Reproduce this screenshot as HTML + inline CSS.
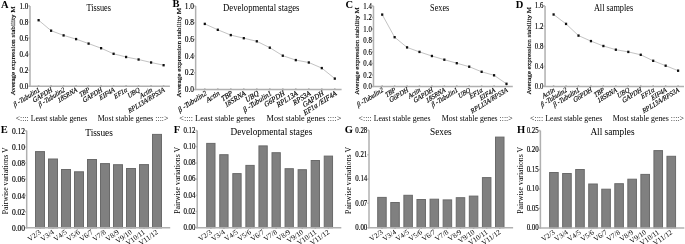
<!DOCTYPE html>
<html><head><meta charset="utf-8"><style>
html,body{margin:0;padding:0;background:#fff;}
svg{display:block;filter:grayscale(1);}
text{font-family:"Liberation Serif", serif;}
.s{stroke:#000;stroke-width:0.15px;}
</style></head><body>
<svg xmlns="http://www.w3.org/2000/svg" width="685" height="244" viewBox="0 0 685 244">
<rect width="685" height="244" fill="#fff"/>
<text font-size="10.5" text-anchor="start" font-weight="bold" font-style="normal" fill="#000" transform="translate(1.0,7.7)">A</text>
<text font-size="9.6" text-anchor="start" font-weight="normal" font-style="normal" fill="#000" transform="translate(86.6,10.8) scale(0.855,1)">Tissues</text>
<line x1="30.00" y1="6.00" x2="30.00" y2="86.80" stroke="#b0b0b0" stroke-width="1.5"/>
<line x1="29.50" y1="86.30" x2="169.90" y2="86.30" stroke="#b0b0b0" stroke-width="1.5"/>
<line x1="28.50" y1="86.30" x2="30.00" y2="86.30" stroke="#b0b0b0" stroke-width="1.5"/>
<text class="s" font-size="7.5" text-anchor="end" font-weight="normal" font-style="normal" fill="#000" transform="translate(28.30,88.80) scale(0.94,1)">0.0</text>
<line x1="28.50" y1="70.24" x2="30.00" y2="70.24" stroke="#b0b0b0" stroke-width="1.5"/>
<text class="s" font-size="7.5" text-anchor="end" font-weight="normal" font-style="normal" fill="#000" transform="translate(28.30,72.74) scale(0.94,1)">0.2</text>
<line x1="28.50" y1="54.18" x2="30.00" y2="54.18" stroke="#b0b0b0" stroke-width="1.5"/>
<text class="s" font-size="7.5" text-anchor="end" font-weight="normal" font-style="normal" fill="#000" transform="translate(28.30,56.68) scale(0.94,1)">0.4</text>
<line x1="28.50" y1="38.12" x2="30.00" y2="38.12" stroke="#b0b0b0" stroke-width="1.5"/>
<text class="s" font-size="7.5" text-anchor="end" font-weight="normal" font-style="normal" fill="#000" transform="translate(28.30,40.62) scale(0.94,1)">0.6</text>
<line x1="28.50" y1="22.06" x2="30.00" y2="22.06" stroke="#b0b0b0" stroke-width="1.5"/>
<text class="s" font-size="7.5" text-anchor="end" font-weight="normal" font-style="normal" fill="#000" transform="translate(28.30,24.56) scale(0.94,1)">0.8</text>
<line x1="28.50" y1="6.00" x2="30.00" y2="6.00" stroke="#b0b0b0" stroke-width="1.5"/>
<text class="s" font-size="7.5" text-anchor="end" font-weight="normal" font-style="normal" fill="#000" transform="translate(28.30,8.50) scale(0.94,1)">1.0</text>
<text class="s" font-size="7.15" text-anchor="middle" font-weight="normal" font-style="normal" fill="#000" transform="translate(15.4,50.9) scale(0.95,1) rotate(-90)">Average expression stability M</text>
<line x1="38.60" y1="86.30" x2="38.60" y2="85.10" stroke="#b0b0b0" stroke-width="1.5"/>
<line x1="51.10" y1="86.30" x2="51.10" y2="85.10" stroke="#b0b0b0" stroke-width="1.5"/>
<line x1="63.60" y1="86.30" x2="63.60" y2="85.10" stroke="#b0b0b0" stroke-width="1.5"/>
<line x1="76.10" y1="86.30" x2="76.10" y2="85.10" stroke="#b0b0b0" stroke-width="1.5"/>
<line x1="88.60" y1="86.30" x2="88.60" y2="85.10" stroke="#b0b0b0" stroke-width="1.5"/>
<line x1="101.10" y1="86.30" x2="101.10" y2="85.10" stroke="#b0b0b0" stroke-width="1.5"/>
<line x1="113.60" y1="86.30" x2="113.60" y2="85.10" stroke="#b0b0b0" stroke-width="1.5"/>
<line x1="126.10" y1="86.30" x2="126.10" y2="85.10" stroke="#b0b0b0" stroke-width="1.5"/>
<line x1="138.60" y1="86.30" x2="138.60" y2="85.10" stroke="#b0b0b0" stroke-width="1.5"/>
<line x1="151.10" y1="86.30" x2="151.10" y2="85.10" stroke="#b0b0b0" stroke-width="1.5"/>
<line x1="163.60" y1="86.30" x2="163.60" y2="85.10" stroke="#b0b0b0" stroke-width="1.5"/>
<polyline points="38.60,20.20 51.10,30.70 63.60,35.40 76.10,39.10 88.60,43.60 101.10,48.20 113.60,53.80 126.10,57.00 138.60,59.50 151.10,62.50 163.60,65.20" fill="none" stroke="#9a9a9a" stroke-width="0.6"/>
<rect x="37.50" y="19.00" width="2.2" height="2.4" fill="#111"/>
<rect x="50.00" y="29.50" width="2.2" height="2.4" fill="#111"/>
<rect x="62.50" y="34.20" width="2.2" height="2.4" fill="#111"/>
<rect x="75.00" y="37.90" width="2.2" height="2.4" fill="#111"/>
<rect x="87.50" y="42.40" width="2.2" height="2.4" fill="#111"/>
<rect x="100.00" y="47.00" width="2.2" height="2.4" fill="#111"/>
<rect x="112.50" y="52.60" width="2.2" height="2.4" fill="#111"/>
<rect x="125.00" y="55.80" width="2.2" height="2.4" fill="#111"/>
<rect x="137.50" y="58.30" width="2.2" height="2.4" fill="#111"/>
<rect x="150.00" y="61.30" width="2.2" height="2.4" fill="#111"/>
<rect x="162.50" y="64.00" width="2.2" height="2.4" fill="#111"/>
<text class="s" font-size="7.3" text-anchor="end" font-weight="normal" font-style="italic" fill="#000" transform="translate(40.20,91.20) scale(0.855,1) rotate(-28)">β -Tubulin1</text>
<text class="s" font-size="7.3" text-anchor="end" font-weight="normal" font-style="italic" fill="#000" transform="translate(52.70,91.20) scale(0.855,1) rotate(-28)">GAPDH</text>
<text class="s" font-size="7.3" text-anchor="end" font-weight="normal" font-style="italic" fill="#000" transform="translate(65.20,91.20) scale(0.855,1) rotate(-28)">β -Tubulin2</text>
<text class="s" font-size="7.3" text-anchor="end" font-weight="normal" font-style="italic" fill="#000" transform="translate(77.70,91.20) scale(0.855,1) rotate(-28)">18SRNA</text>
<text class="s" font-size="7.3" text-anchor="end" font-weight="normal" font-style="italic" fill="#000" transform="translate(90.20,91.20) scale(0.855,1) rotate(-28)">TBP</text>
<text class="s" font-size="7.3" text-anchor="end" font-weight="normal" font-style="italic" fill="#000" transform="translate(102.70,91.20) scale(0.855,1) rotate(-28)">GAPDH</text>
<text class="s" font-size="7.3" text-anchor="end" font-weight="normal" font-style="italic" fill="#000" transform="translate(115.20,91.20) scale(0.855,1) rotate(-28)">EIF4A</text>
<text class="s" font-size="7.3" text-anchor="end" font-weight="normal" font-style="italic" fill="#000" transform="translate(127.70,91.20) scale(0.855,1) rotate(-28)">EF1α</text>
<text class="s" font-size="7.3" text-anchor="end" font-weight="normal" font-style="italic" fill="#000" transform="translate(140.20,91.20) scale(0.855,1) rotate(-28)">UBQ</text>
<text class="s" font-size="7.3" text-anchor="end" font-weight="normal" font-style="italic" fill="#000" transform="translate(152.70,91.20) scale(0.855,1) rotate(-28)">Actin</text>
<text class="s" font-size="7.3" text-anchor="end" font-weight="normal" font-style="italic" fill="#000" transform="translate(165.20,91.20) scale(0.855,1) rotate(-28)">RPL13A/RPS3A</text>
<text font-size="9.1" text-anchor="start" font-weight="normal" font-style="normal" fill="#000" transform="translate(15.7,120.7) scale(0.855,1)">&lt;:::: Least stable genes</text>
<text font-size="9.1" text-anchor="start" font-weight="normal" font-style="normal" fill="#000" transform="translate(97.7,120.7) scale(0.855,1)">Most stable genes ::::&gt;</text>
<text font-size="10.5" text-anchor="start" font-weight="bold" font-style="normal" fill="#000" transform="translate(172.6,6.9)">B</text>
<text font-size="9.6" text-anchor="start" font-weight="normal" font-style="normal" fill="#000" transform="translate(223.1,10.5) scale(0.905,1)">Developmental stages</text>
<line x1="195.65" y1="6.00" x2="195.65" y2="89.95" stroke="#b0b0b0" stroke-width="1.5"/>
<line x1="195.15" y1="89.45" x2="341.60" y2="89.45" stroke="#b0b0b0" stroke-width="1.5"/>
<line x1="194.15" y1="89.45" x2="195.65" y2="89.45" stroke="#b0b0b0" stroke-width="1.5"/>
<text class="s" font-size="7.5" text-anchor="end" font-weight="normal" font-style="normal" fill="#000" transform="translate(193.95,91.95) scale(0.99,1)">0.0</text>
<line x1="194.15" y1="72.76" x2="195.65" y2="72.76" stroke="#b0b0b0" stroke-width="1.5"/>
<text class="s" font-size="7.5" text-anchor="end" font-weight="normal" font-style="normal" fill="#000" transform="translate(193.95,75.26) scale(0.99,1)">0.2</text>
<line x1="194.15" y1="56.07" x2="195.65" y2="56.07" stroke="#b0b0b0" stroke-width="1.5"/>
<text class="s" font-size="7.5" text-anchor="end" font-weight="normal" font-style="normal" fill="#000" transform="translate(193.95,58.57) scale(0.99,1)">0.4</text>
<line x1="194.15" y1="39.38" x2="195.65" y2="39.38" stroke="#b0b0b0" stroke-width="1.5"/>
<text class="s" font-size="7.5" text-anchor="end" font-weight="normal" font-style="normal" fill="#000" transform="translate(193.95,41.88) scale(0.99,1)">0.6</text>
<line x1="194.15" y1="22.69" x2="195.65" y2="22.69" stroke="#b0b0b0" stroke-width="1.5"/>
<text class="s" font-size="7.5" text-anchor="end" font-weight="normal" font-style="normal" fill="#000" transform="translate(193.95,25.19) scale(0.99,1)">0.8</text>
<line x1="194.15" y1="6.00" x2="195.65" y2="6.00" stroke="#b0b0b0" stroke-width="1.5"/>
<text class="s" font-size="7.5" text-anchor="end" font-weight="normal" font-style="normal" fill="#000" transform="translate(193.95,8.50) scale(0.99,1)">1.0</text>
<text class="s" font-size="7.2" text-anchor="middle" font-weight="normal" font-style="normal" fill="#000" transform="translate(180.7,52.6) scale(0.95,1) rotate(-90)">Average expression stability M</text>
<line x1="204.80" y1="89.45" x2="204.80" y2="88.25" stroke="#b0b0b0" stroke-width="1.5"/>
<line x1="217.80" y1="89.45" x2="217.80" y2="88.25" stroke="#b0b0b0" stroke-width="1.5"/>
<line x1="230.80" y1="89.45" x2="230.80" y2="88.25" stroke="#b0b0b0" stroke-width="1.5"/>
<line x1="243.80" y1="89.45" x2="243.80" y2="88.25" stroke="#b0b0b0" stroke-width="1.5"/>
<line x1="256.80" y1="89.45" x2="256.80" y2="88.25" stroke="#b0b0b0" stroke-width="1.5"/>
<line x1="269.80" y1="89.45" x2="269.80" y2="88.25" stroke="#b0b0b0" stroke-width="1.5"/>
<line x1="282.80" y1="89.45" x2="282.80" y2="88.25" stroke="#b0b0b0" stroke-width="1.5"/>
<line x1="295.80" y1="89.45" x2="295.80" y2="88.25" stroke="#b0b0b0" stroke-width="1.5"/>
<line x1="308.80" y1="89.45" x2="308.80" y2="88.25" stroke="#b0b0b0" stroke-width="1.5"/>
<line x1="321.80" y1="89.45" x2="321.80" y2="88.25" stroke="#b0b0b0" stroke-width="1.5"/>
<line x1="334.80" y1="89.45" x2="334.80" y2="88.25" stroke="#b0b0b0" stroke-width="1.5"/>
<polyline points="204.80,23.90 217.80,29.80 230.80,35.10 243.80,38.20 256.80,41.30 269.80,47.70 282.80,55.70 295.80,60.10 308.80,62.50 321.80,68.10 334.80,78.60" fill="none" stroke="#9a9a9a" stroke-width="0.6"/>
<rect x="203.70" y="22.70" width="2.2" height="2.4" fill="#111"/>
<rect x="216.70" y="28.60" width="2.2" height="2.4" fill="#111"/>
<rect x="229.70" y="33.90" width="2.2" height="2.4" fill="#111"/>
<rect x="242.70" y="37.00" width="2.2" height="2.4" fill="#111"/>
<rect x="255.70" y="40.10" width="2.2" height="2.4" fill="#111"/>
<rect x="268.70" y="46.50" width="2.2" height="2.4" fill="#111"/>
<rect x="281.70" y="54.50" width="2.2" height="2.4" fill="#111"/>
<rect x="294.70" y="58.90" width="2.2" height="2.4" fill="#111"/>
<rect x="307.70" y="61.30" width="2.2" height="2.4" fill="#111"/>
<rect x="320.70" y="66.90" width="2.2" height="2.4" fill="#111"/>
<rect x="333.70" y="77.40" width="2.2" height="2.4" fill="#111"/>
<text class="s" font-size="7.592" text-anchor="end" font-weight="normal" font-style="italic" fill="#000" transform="translate(207.20,94.55) scale(0.905,1) rotate(-30.5)">β -Tubulin2</text>
<text class="s" font-size="7.592" text-anchor="end" font-weight="normal" font-style="italic" fill="#000" transform="translate(220.20,94.55) scale(0.905,1) rotate(-30.5)">Actin</text>
<text class="s" font-size="7.592" text-anchor="end" font-weight="normal" font-style="italic" fill="#000" transform="translate(233.20,94.55) scale(0.905,1) rotate(-30.5)">TBP</text>
<text class="s" font-size="7.592" text-anchor="end" font-weight="normal" font-style="italic" fill="#000" transform="translate(246.20,94.55) scale(0.905,1) rotate(-30.5)">18SRNA</text>
<text class="s" font-size="7.592" text-anchor="end" font-weight="normal" font-style="italic" fill="#000" transform="translate(259.20,94.55) scale(0.905,1) rotate(-30.5)">UBQ</text>
<text class="s" font-size="7.592" text-anchor="end" font-weight="normal" font-style="italic" fill="#000" transform="translate(272.20,94.55) scale(0.905,1) rotate(-30.5)">β -Tubulin1</text>
<text class="s" font-size="7.592" text-anchor="end" font-weight="normal" font-style="italic" fill="#000" transform="translate(285.20,94.55) scale(0.905,1) rotate(-30.5)">G6PDH</text>
<text class="s" font-size="7.592" text-anchor="end" font-weight="normal" font-style="italic" fill="#000" transform="translate(298.20,94.55) scale(0.905,1) rotate(-30.5)">RPL13A</text>
<text class="s" font-size="7.592" text-anchor="end" font-weight="normal" font-style="italic" fill="#000" transform="translate(311.20,94.55) scale(0.905,1) rotate(-30.5)">RPS3A</text>
<text class="s" font-size="7.592" text-anchor="end" font-weight="normal" font-style="italic" fill="#000" transform="translate(324.20,94.55) scale(0.905,1) rotate(-30.5)">GAPDH</text>
<text class="s" font-size="7.592" text-anchor="end" font-weight="normal" font-style="italic" fill="#000" transform="translate(337.20,94.55) scale(0.905,1) rotate(-30.5)">EF1α /EIF4A</text>
<text font-size="9.1" text-anchor="start" font-weight="normal" font-style="normal" fill="#000" transform="translate(179.3,120.7) scale(0.905,1)">&lt;:::: Least stable genes</text>
<text font-size="9.1" text-anchor="start" font-weight="normal" font-style="normal" fill="#000" transform="translate(266.6,120.7) scale(0.905,1)">Most stable genes ::::&gt;</text>
<text font-size="10.5" text-anchor="start" font-weight="bold" font-style="normal" fill="#000" transform="translate(345.6,7.7)">C</text>
<text font-size="9.6" text-anchor="start" font-weight="normal" font-style="normal" fill="#000" transform="translate(430.1,10.9) scale(0.86,1)">Sexes</text>
<line x1="373.50" y1="6.00" x2="373.50" y2="87.00" stroke="#b0b0b0" stroke-width="1.5"/>
<line x1="373.00" y1="86.50" x2="512.80" y2="86.50" stroke="#b0b0b0" stroke-width="1.5"/>
<line x1="372.00" y1="86.50" x2="373.50" y2="86.50" stroke="#b0b0b0" stroke-width="1.5"/>
<text class="s" font-size="7.5" text-anchor="end" font-weight="normal" font-style="normal" fill="#000" transform="translate(371.80,89.00) scale(0.91,1)">0.0</text>
<line x1="372.00" y1="75.00" x2="373.50" y2="75.00" stroke="#b0b0b0" stroke-width="1.5"/>
<text class="s" font-size="7.5" text-anchor="end" font-weight="normal" font-style="normal" fill="#000" transform="translate(371.80,77.50) scale(0.91,1)">0.2</text>
<line x1="372.00" y1="63.50" x2="373.50" y2="63.50" stroke="#b0b0b0" stroke-width="1.5"/>
<text class="s" font-size="7.5" text-anchor="end" font-weight="normal" font-style="normal" fill="#000" transform="translate(371.80,66.00) scale(0.91,1)">0.4</text>
<line x1="372.00" y1="52.00" x2="373.50" y2="52.00" stroke="#b0b0b0" stroke-width="1.5"/>
<text class="s" font-size="7.5" text-anchor="end" font-weight="normal" font-style="normal" fill="#000" transform="translate(371.80,54.50) scale(0.91,1)">0.6</text>
<line x1="372.00" y1="40.50" x2="373.50" y2="40.50" stroke="#b0b0b0" stroke-width="1.5"/>
<text class="s" font-size="7.5" text-anchor="end" font-weight="normal" font-style="normal" fill="#000" transform="translate(371.80,43.00) scale(0.91,1)">0.8</text>
<line x1="372.00" y1="29.00" x2="373.50" y2="29.00" stroke="#b0b0b0" stroke-width="1.5"/>
<text class="s" font-size="7.5" text-anchor="end" font-weight="normal" font-style="normal" fill="#000" transform="translate(371.80,31.50) scale(0.91,1)">1.0</text>
<line x1="372.00" y1="17.50" x2="373.50" y2="17.50" stroke="#b0b0b0" stroke-width="1.5"/>
<text class="s" font-size="7.5" text-anchor="end" font-weight="normal" font-style="normal" fill="#000" transform="translate(371.80,20.00) scale(0.91,1)">1.2</text>
<line x1="372.00" y1="6.00" x2="373.50" y2="6.00" stroke="#b0b0b0" stroke-width="1.5"/>
<text class="s" font-size="7.5" text-anchor="end" font-weight="normal" font-style="normal" fill="#000" transform="translate(371.80,8.50) scale(0.91,1)">1.4</text>
<text class="s" font-size="7.05" text-anchor="middle" font-weight="normal" font-style="normal" fill="#000" transform="translate(358.9,51.0) scale(0.95,1) rotate(-90)">Average expression stability M</text>
<line x1="382.20" y1="86.50" x2="382.20" y2="85.30" stroke="#b0b0b0" stroke-width="1.5"/>
<line x1="394.63" y1="86.50" x2="394.63" y2="85.30" stroke="#b0b0b0" stroke-width="1.5"/>
<line x1="407.06" y1="86.50" x2="407.06" y2="85.30" stroke="#b0b0b0" stroke-width="1.5"/>
<line x1="419.49" y1="86.50" x2="419.49" y2="85.30" stroke="#b0b0b0" stroke-width="1.5"/>
<line x1="431.92" y1="86.50" x2="431.92" y2="85.30" stroke="#b0b0b0" stroke-width="1.5"/>
<line x1="444.35" y1="86.50" x2="444.35" y2="85.30" stroke="#b0b0b0" stroke-width="1.5"/>
<line x1="456.78" y1="86.50" x2="456.78" y2="85.30" stroke="#b0b0b0" stroke-width="1.5"/>
<line x1="469.21" y1="86.50" x2="469.21" y2="85.30" stroke="#b0b0b0" stroke-width="1.5"/>
<line x1="481.64" y1="86.50" x2="481.64" y2="85.30" stroke="#b0b0b0" stroke-width="1.5"/>
<line x1="494.07" y1="86.50" x2="494.07" y2="85.30" stroke="#b0b0b0" stroke-width="1.5"/>
<line x1="506.50" y1="86.50" x2="506.50" y2="85.30" stroke="#b0b0b0" stroke-width="1.5"/>
<polyline points="382.20,14.60 394.63,37.20 407.06,47.40 419.49,51.90 431.92,56.00 444.35,59.70 456.78,63.20 469.21,66.70 481.64,71.80 494.07,75.30 506.50,83.80" fill="none" stroke="#9a9a9a" stroke-width="0.6"/>
<rect x="381.10" y="13.40" width="2.2" height="2.4" fill="#111"/>
<rect x="393.53" y="36.00" width="2.2" height="2.4" fill="#111"/>
<rect x="405.96" y="46.20" width="2.2" height="2.4" fill="#111"/>
<rect x="418.39" y="50.70" width="2.2" height="2.4" fill="#111"/>
<rect x="430.82" y="54.80" width="2.2" height="2.4" fill="#111"/>
<rect x="443.25" y="58.50" width="2.2" height="2.4" fill="#111"/>
<rect x="455.68" y="62.00" width="2.2" height="2.4" fill="#111"/>
<rect x="468.11" y="65.50" width="2.2" height="2.4" fill="#111"/>
<rect x="480.54" y="70.60" width="2.2" height="2.4" fill="#111"/>
<rect x="492.97" y="74.10" width="2.2" height="2.4" fill="#111"/>
<rect x="505.40" y="82.60" width="2.2" height="2.4" fill="#111"/>
<text class="s" font-size="7.3" text-anchor="end" font-weight="normal" font-style="italic" fill="#000" transform="translate(383.80,91.40) scale(0.86,1) rotate(-28)">β -Tubulin2</text>
<text class="s" font-size="7.3" text-anchor="end" font-weight="normal" font-style="italic" fill="#000" transform="translate(396.23,91.40) scale(0.86,1) rotate(-28)">TBP</text>
<text class="s" font-size="7.3" text-anchor="end" font-weight="normal" font-style="italic" fill="#000" transform="translate(408.66,91.40) scale(0.86,1) rotate(-28)">G6PDH</text>
<text class="s" font-size="7.3" text-anchor="end" font-weight="normal" font-style="italic" fill="#000" transform="translate(421.09,91.40) scale(0.86,1) rotate(-28)">Actin</text>
<text class="s" font-size="7.3" text-anchor="end" font-weight="normal" font-style="italic" fill="#000" transform="translate(433.52,91.40) scale(0.86,1) rotate(-28)">GAPDH</text>
<text class="s" font-size="7.3" text-anchor="end" font-weight="normal" font-style="italic" fill="#000" transform="translate(445.95,91.40) scale(0.86,1) rotate(-28)">18SRNA</text>
<text class="s" font-size="7.3" text-anchor="end" font-weight="normal" font-style="italic" fill="#000" transform="translate(458.38,91.40) scale(0.86,1) rotate(-28)">β -Tubulin1</text>
<text class="s" font-size="7.3" text-anchor="end" font-weight="normal" font-style="italic" fill="#000" transform="translate(470.81,91.40) scale(0.86,1) rotate(-28)">UBQ</text>
<text class="s" font-size="7.3" text-anchor="end" font-weight="normal" font-style="italic" fill="#000" transform="translate(483.24,91.40) scale(0.86,1) rotate(-28)">EF1α</text>
<text class="s" font-size="7.3" text-anchor="end" font-weight="normal" font-style="italic" fill="#000" transform="translate(495.67,91.40) scale(0.86,1) rotate(-28)">EIF4A</text>
<text class="s" font-size="7.3" text-anchor="end" font-weight="normal" font-style="italic" fill="#000" transform="translate(508.10,91.40) scale(0.86,1) rotate(-28)">RPL13A/RPS3A</text>
<text font-size="9.1" text-anchor="start" font-weight="normal" font-style="normal" fill="#000" transform="translate(358.6,120.7) scale(0.86,1)">&lt;:::: Least stable genes</text>
<text font-size="9.1" text-anchor="start" font-weight="normal" font-style="normal" fill="#000" transform="translate(441.7,120.7) scale(0.86,1)">Most stable genes ::::&gt;</text>
<text font-size="10.5" text-anchor="start" font-weight="bold" font-style="normal" fill="#000" transform="translate(515.8,7.8)">D</text>
<text font-size="9.6" text-anchor="start" font-weight="normal" font-style="normal" fill="#000" transform="translate(593.9,10.8) scale(0.862,1)">All samples</text>
<line x1="545.05" y1="5.90" x2="545.05" y2="86.90" stroke="#b0b0b0" stroke-width="1.5"/>
<line x1="544.55" y1="86.40" x2="684.00" y2="86.40" stroke="#b0b0b0" stroke-width="1.5"/>
<line x1="543.55" y1="86.40" x2="545.05" y2="86.40" stroke="#b0b0b0" stroke-width="1.5"/>
<text class="s" font-size="7.5" text-anchor="end" font-weight="normal" font-style="normal" fill="#000" transform="translate(543.35,88.90) scale(0.91,1)">0.0</text>
<line x1="543.55" y1="66.28" x2="545.05" y2="66.28" stroke="#b0b0b0" stroke-width="1.5"/>
<text class="s" font-size="7.5" text-anchor="end" font-weight="normal" font-style="normal" fill="#000" transform="translate(543.35,68.78) scale(0.91,1)">0.4</text>
<line x1="543.55" y1="46.15" x2="545.05" y2="46.15" stroke="#b0b0b0" stroke-width="1.5"/>
<text class="s" font-size="7.5" text-anchor="end" font-weight="normal" font-style="normal" fill="#000" transform="translate(543.35,48.65) scale(0.91,1)">0.8</text>
<line x1="543.55" y1="26.03" x2="545.05" y2="26.03" stroke="#b0b0b0" stroke-width="1.5"/>
<text class="s" font-size="7.5" text-anchor="end" font-weight="normal" font-style="normal" fill="#000" transform="translate(543.35,28.53) scale(0.91,1)">1.2</text>
<line x1="543.55" y1="5.90" x2="545.05" y2="5.90" stroke="#b0b0b0" stroke-width="1.5"/>
<text class="s" font-size="7.5" text-anchor="end" font-weight="normal" font-style="normal" fill="#000" transform="translate(543.35,8.40) scale(0.91,1)">1.6</text>
<text class="s" font-size="7.05" text-anchor="middle" font-weight="normal" font-style="normal" fill="#000" transform="translate(530.8,50.7) scale(0.95,1) rotate(-90)">Average expression stability M</text>
<line x1="553.60" y1="86.40" x2="553.60" y2="85.20" stroke="#b0b0b0" stroke-width="1.5"/>
<line x1="566.05" y1="86.40" x2="566.05" y2="85.20" stroke="#b0b0b0" stroke-width="1.5"/>
<line x1="578.50" y1="86.40" x2="578.50" y2="85.20" stroke="#b0b0b0" stroke-width="1.5"/>
<line x1="590.95" y1="86.40" x2="590.95" y2="85.20" stroke="#b0b0b0" stroke-width="1.5"/>
<line x1="603.40" y1="86.40" x2="603.40" y2="85.20" stroke="#b0b0b0" stroke-width="1.5"/>
<line x1="615.85" y1="86.40" x2="615.85" y2="85.20" stroke="#b0b0b0" stroke-width="1.5"/>
<line x1="628.30" y1="86.40" x2="628.30" y2="85.20" stroke="#b0b0b0" stroke-width="1.5"/>
<line x1="640.75" y1="86.40" x2="640.75" y2="85.20" stroke="#b0b0b0" stroke-width="1.5"/>
<line x1="653.20" y1="86.40" x2="653.20" y2="85.20" stroke="#b0b0b0" stroke-width="1.5"/>
<line x1="665.65" y1="86.40" x2="665.65" y2="85.20" stroke="#b0b0b0" stroke-width="1.5"/>
<line x1="678.10" y1="86.40" x2="678.10" y2="85.20" stroke="#b0b0b0" stroke-width="1.5"/>
<polyline points="553.60,14.50 566.05,23.90 578.50,35.60 590.95,41.10 603.40,46.00 615.85,49.70 628.30,51.90 640.75,54.80 653.20,60.80 665.65,65.70 678.10,70.70" fill="none" stroke="#9a9a9a" stroke-width="0.6"/>
<rect x="552.50" y="13.30" width="2.2" height="2.4" fill="#111"/>
<rect x="564.95" y="22.70" width="2.2" height="2.4" fill="#111"/>
<rect x="577.40" y="34.40" width="2.2" height="2.4" fill="#111"/>
<rect x="589.85" y="39.90" width="2.2" height="2.4" fill="#111"/>
<rect x="602.30" y="44.80" width="2.2" height="2.4" fill="#111"/>
<rect x="614.75" y="48.50" width="2.2" height="2.4" fill="#111"/>
<rect x="627.20" y="50.70" width="2.2" height="2.4" fill="#111"/>
<rect x="639.65" y="53.60" width="2.2" height="2.4" fill="#111"/>
<rect x="652.10" y="59.60" width="2.2" height="2.4" fill="#111"/>
<rect x="664.55" y="64.50" width="2.2" height="2.4" fill="#111"/>
<rect x="677.00" y="69.50" width="2.2" height="2.4" fill="#111"/>
<text class="s" font-size="7.3" text-anchor="end" font-weight="normal" font-style="italic" fill="#000" transform="translate(555.20,91.30) scale(0.862,1) rotate(-28)">Actin</text>
<text class="s" font-size="7.3" text-anchor="end" font-weight="normal" font-style="italic" fill="#000" transform="translate(567.65,91.30) scale(0.862,1) rotate(-28)">β -Tubulin2</text>
<text class="s" font-size="7.3" text-anchor="end" font-weight="normal" font-style="italic" fill="#000" transform="translate(580.10,91.30) scale(0.862,1) rotate(-28)">β -Tubulin1</text>
<text class="s" font-size="7.3" text-anchor="end" font-weight="normal" font-style="italic" fill="#000" transform="translate(592.55,91.30) scale(0.862,1) rotate(-28)">G6PDH</text>
<text class="s" font-size="7.3" text-anchor="end" font-weight="normal" font-style="italic" fill="#000" transform="translate(605.00,91.30) scale(0.862,1) rotate(-28)">TBP</text>
<text class="s" font-size="7.3" text-anchor="end" font-weight="normal" font-style="italic" fill="#000" transform="translate(617.45,91.30) scale(0.862,1) rotate(-28)">18SRNA</text>
<text class="s" font-size="7.3" text-anchor="end" font-weight="normal" font-style="italic" fill="#000" transform="translate(629.90,91.30) scale(0.862,1) rotate(-28)">UBQ</text>
<text class="s" font-size="7.3" text-anchor="end" font-weight="normal" font-style="italic" fill="#000" transform="translate(642.35,91.30) scale(0.862,1) rotate(-28)">GAPDH</text>
<text class="s" font-size="7.3" text-anchor="end" font-weight="normal" font-style="italic" fill="#000" transform="translate(654.80,91.30) scale(0.862,1) rotate(-28)">EF1α</text>
<text class="s" font-size="7.3" text-anchor="end" font-weight="normal" font-style="italic" fill="#000" transform="translate(667.25,91.30) scale(0.862,1) rotate(-28)">EIF4A</text>
<text class="s" font-size="7.3" text-anchor="end" font-weight="normal" font-style="italic" fill="#000" transform="translate(679.70,91.30) scale(0.862,1) rotate(-28)">RPL13A/RPS3A</text>
<text font-size="9.1" text-anchor="start" font-weight="normal" font-style="normal" fill="#000" transform="translate(530.1,120.7) scale(0.862,1)">&lt;:::: Least stable genes</text>
<text font-size="9.1" text-anchor="start" font-weight="normal" font-style="normal" fill="#000" transform="translate(612.7,120.7) scale(0.862,1)">Most stable genes ::::&gt;</text>
<text font-size="10.5" text-anchor="start" font-weight="bold" font-style="normal" fill="#000" transform="translate(0.8,133.4)">E</text>
<text font-size="9.3" text-anchor="start" font-weight="normal" font-style="normal" fill="#000" transform="translate(85.3,136.2)">Tissues</text>
<rect x="35.50" y="151.60" width="9.00" height="76.25" fill="#808080" stroke="#6a6a6a" stroke-width="1"/>
<rect x="48.50" y="159.00" width="9.00" height="68.85" fill="#808080" stroke="#6a6a6a" stroke-width="1"/>
<rect x="61.50" y="169.50" width="9.00" height="58.35" fill="#808080" stroke="#6a6a6a" stroke-width="1"/>
<rect x="74.50" y="171.80" width="9.00" height="56.05" fill="#808080" stroke="#6a6a6a" stroke-width="1"/>
<rect x="87.50" y="159.50" width="9.00" height="68.35" fill="#808080" stroke="#6a6a6a" stroke-width="1"/>
<rect x="100.50" y="163.60" width="9.00" height="64.25" fill="#808080" stroke="#6a6a6a" stroke-width="1"/>
<rect x="113.50" y="164.70" width="9.00" height="63.15" fill="#808080" stroke="#6a6a6a" stroke-width="1"/>
<rect x="126.50" y="168.50" width="9.00" height="59.35" fill="#808080" stroke="#6a6a6a" stroke-width="1"/>
<rect x="139.50" y="164.60" width="9.00" height="63.25" fill="#808080" stroke="#6a6a6a" stroke-width="1"/>
<rect x="152.50" y="134.40" width="9.00" height="93.45" fill="#808080" stroke="#6a6a6a" stroke-width="1"/>
<line x1="26.70" y1="130.70" x2="26.70" y2="228.35" stroke="#b0b0b0" stroke-width="1.5"/>
<line x1="26.20" y1="227.85" x2="170.20" y2="227.85" stroke="#b0b0b0" stroke-width="1.5"/>
<line x1="25.20" y1="227.85" x2="26.70" y2="227.85" stroke="#b0b0b0" stroke-width="1.5"/>
<text class="s" font-size="7.5" text-anchor="end" font-weight="normal" font-style="normal" fill="#000" transform="translate(25.00,230.95) scale(1.0,1)">0.00</text>
<line x1="25.20" y1="211.66" x2="26.70" y2="211.66" stroke="#b0b0b0" stroke-width="1.5"/>
<text class="s" font-size="7.5" text-anchor="end" font-weight="normal" font-style="normal" fill="#000" transform="translate(25.00,214.76) scale(1.0,1)">0.02</text>
<line x1="25.20" y1="195.47" x2="26.70" y2="195.47" stroke="#b0b0b0" stroke-width="1.5"/>
<text class="s" font-size="7.5" text-anchor="end" font-weight="normal" font-style="normal" fill="#000" transform="translate(25.00,198.57) scale(1.0,1)">0.04</text>
<line x1="25.20" y1="179.27" x2="26.70" y2="179.27" stroke="#b0b0b0" stroke-width="1.5"/>
<text class="s" font-size="7.5" text-anchor="end" font-weight="normal" font-style="normal" fill="#000" transform="translate(25.00,182.37) scale(1.0,1)">0.06</text>
<line x1="25.20" y1="163.08" x2="26.70" y2="163.08" stroke="#b0b0b0" stroke-width="1.5"/>
<text class="s" font-size="7.5" text-anchor="end" font-weight="normal" font-style="normal" fill="#000" transform="translate(25.00,166.18) scale(1.0,1)">0.08</text>
<line x1="25.20" y1="146.89" x2="26.70" y2="146.89" stroke="#b0b0b0" stroke-width="1.5"/>
<text class="s" font-size="7.5" text-anchor="end" font-weight="normal" font-style="normal" fill="#000" transform="translate(25.00,149.99) scale(1.0,1)">0.10</text>
<line x1="25.20" y1="130.70" x2="26.70" y2="130.70" stroke="#b0b0b0" stroke-width="1.5"/>
<text class="s" font-size="7.5" text-anchor="end" font-weight="normal" font-style="normal" fill="#000" transform="translate(25.00,133.80) scale(1.0,1)">0.12</text>
<text font-size="7.8" text-anchor="middle" font-weight="normal" font-style="normal" fill="#000" transform="translate(7.7,180.75) rotate(-90)">Pairwise variations V</text>
<line x1="40.00" y1="227.85" x2="40.00" y2="229.05" stroke="#b0b0b0" stroke-width="1.5"/>
<text font-size="7.3" text-anchor="end" font-weight="normal" font-style="normal" fill="#000" transform="translate(41.60,233.25) rotate(-35)">V2/3</text>
<line x1="53.00" y1="227.85" x2="53.00" y2="229.05" stroke="#b0b0b0" stroke-width="1.5"/>
<text font-size="7.3" text-anchor="end" font-weight="normal" font-style="normal" fill="#000" transform="translate(54.60,233.25) rotate(-35)">V3/4</text>
<line x1="66.00" y1="227.85" x2="66.00" y2="229.05" stroke="#b0b0b0" stroke-width="1.5"/>
<text font-size="7.3" text-anchor="end" font-weight="normal" font-style="normal" fill="#000" transform="translate(67.60,233.25) rotate(-35)">V4/5</text>
<line x1="79.00" y1="227.85" x2="79.00" y2="229.05" stroke="#b0b0b0" stroke-width="1.5"/>
<text font-size="7.3" text-anchor="end" font-weight="normal" font-style="normal" fill="#000" transform="translate(80.60,233.25) rotate(-35)">V5/6</text>
<line x1="92.00" y1="227.85" x2="92.00" y2="229.05" stroke="#b0b0b0" stroke-width="1.5"/>
<text font-size="7.3" text-anchor="end" font-weight="normal" font-style="normal" fill="#000" transform="translate(93.60,233.25) rotate(-35)">V6/7</text>
<line x1="105.00" y1="227.85" x2="105.00" y2="229.05" stroke="#b0b0b0" stroke-width="1.5"/>
<text font-size="7.3" text-anchor="end" font-weight="normal" font-style="normal" fill="#000" transform="translate(106.60,233.25) rotate(-35)">V7/8</text>
<line x1="118.00" y1="227.85" x2="118.00" y2="229.05" stroke="#b0b0b0" stroke-width="1.5"/>
<text font-size="7.3" text-anchor="end" font-weight="normal" font-style="normal" fill="#000" transform="translate(119.60,233.25) rotate(-35)">V8/9</text>
<line x1="131.00" y1="227.85" x2="131.00" y2="229.05" stroke="#b0b0b0" stroke-width="1.5"/>
<text font-size="7.3" text-anchor="end" font-weight="normal" font-style="normal" fill="#000" transform="translate(132.60,233.25) rotate(-35)">V9/10</text>
<line x1="144.00" y1="227.85" x2="144.00" y2="229.05" stroke="#b0b0b0" stroke-width="1.5"/>
<text font-size="7.3" text-anchor="end" font-weight="normal" font-style="normal" fill="#000" transform="translate(145.60,233.25) rotate(-35)">V10/11</text>
<line x1="157.00" y1="227.85" x2="157.00" y2="229.05" stroke="#b0b0b0" stroke-width="1.5"/>
<text font-size="7.3" text-anchor="end" font-weight="normal" font-style="normal" fill="#000" transform="translate(158.60,233.25) rotate(-35)">V11/12</text>
<text font-size="10.5" text-anchor="start" font-weight="bold" font-style="normal" fill="#000" transform="translate(173.8,133.3)">F</text>
<text font-size="9.3" text-anchor="start" font-weight="normal" font-style="normal" fill="#000" transform="translate(230.5,135.4)">Developmental stages</text>
<rect x="206.70" y="143.40" width="8.30" height="84.30" fill="#808080" stroke="#6a6a6a" stroke-width="1"/>
<rect x="219.76" y="154.70" width="8.30" height="73.00" fill="#808080" stroke="#6a6a6a" stroke-width="1"/>
<rect x="232.82" y="173.60" width="8.30" height="54.10" fill="#808080" stroke="#6a6a6a" stroke-width="1"/>
<rect x="245.88" y="165.40" width="8.30" height="62.30" fill="#808080" stroke="#6a6a6a" stroke-width="1"/>
<rect x="258.94" y="145.90" width="8.30" height="81.80" fill="#808080" stroke="#6a6a6a" stroke-width="1"/>
<rect x="272.00" y="152.70" width="8.30" height="75.00" fill="#808080" stroke="#6a6a6a" stroke-width="1"/>
<rect x="285.06" y="168.70" width="8.30" height="59.00" fill="#808080" stroke="#6a6a6a" stroke-width="1"/>
<rect x="298.12" y="169.70" width="8.30" height="58.00" fill="#808080" stroke="#6a6a6a" stroke-width="1"/>
<rect x="311.18" y="160.50" width="8.30" height="67.20" fill="#808080" stroke="#6a6a6a" stroke-width="1"/>
<rect x="324.24" y="156.10" width="8.30" height="71.60" fill="#808080" stroke="#6a6a6a" stroke-width="1"/>
<line x1="197.20" y1="130.60" x2="197.20" y2="228.20" stroke="#b0b0b0" stroke-width="1.5"/>
<line x1="196.70" y1="227.70" x2="341.30" y2="227.70" stroke="#b0b0b0" stroke-width="1.5"/>
<line x1="195.70" y1="227.70" x2="197.20" y2="227.70" stroke="#b0b0b0" stroke-width="1.5"/>
<text class="s" font-size="8.0" text-anchor="end" font-weight="normal" font-style="normal" fill="#000" transform="translate(195.50,229.90) scale(0.86,1)">0.00</text>
<line x1="195.70" y1="211.52" x2="197.20" y2="211.52" stroke="#b0b0b0" stroke-width="1.5"/>
<text class="s" font-size="8.0" text-anchor="end" font-weight="normal" font-style="normal" fill="#000" transform="translate(195.50,213.72) scale(0.86,1)">0.02</text>
<line x1="195.70" y1="195.33" x2="197.20" y2="195.33" stroke="#b0b0b0" stroke-width="1.5"/>
<text class="s" font-size="8.0" text-anchor="end" font-weight="normal" font-style="normal" fill="#000" transform="translate(195.50,197.53) scale(0.86,1)">0.04</text>
<line x1="195.70" y1="179.15" x2="197.20" y2="179.15" stroke="#b0b0b0" stroke-width="1.5"/>
<text class="s" font-size="8.0" text-anchor="end" font-weight="normal" font-style="normal" fill="#000" transform="translate(195.50,181.35) scale(0.86,1)">0.06</text>
<line x1="195.70" y1="162.97" x2="197.20" y2="162.97" stroke="#b0b0b0" stroke-width="1.5"/>
<text class="s" font-size="8.0" text-anchor="end" font-weight="normal" font-style="normal" fill="#000" transform="translate(195.50,165.17) scale(0.86,1)">0.08</text>
<line x1="195.70" y1="146.78" x2="197.20" y2="146.78" stroke="#b0b0b0" stroke-width="1.5"/>
<text class="s" font-size="8.0" text-anchor="end" font-weight="normal" font-style="normal" fill="#000" transform="translate(195.50,148.98) scale(0.86,1)">0.10</text>
<line x1="195.70" y1="130.60" x2="197.20" y2="130.60" stroke="#b0b0b0" stroke-width="1.5"/>
<text class="s" font-size="8.0" text-anchor="end" font-weight="normal" font-style="normal" fill="#000" transform="translate(195.50,132.80) scale(0.86,1)">0.12</text>
<text font-size="7.8" text-anchor="middle" font-weight="normal" font-style="normal" fill="#000" transform="translate(179.6,180.3) rotate(-90)">Pairwise variations V</text>
<line x1="210.85" y1="227.70" x2="210.85" y2="228.90" stroke="#b0b0b0" stroke-width="1.5"/>
<text font-size="7.3" text-anchor="end" font-weight="normal" font-style="normal" fill="#000" transform="translate(212.45,233.10) rotate(-35)">V2/3</text>
<line x1="223.91" y1="227.70" x2="223.91" y2="228.90" stroke="#b0b0b0" stroke-width="1.5"/>
<text font-size="7.3" text-anchor="end" font-weight="normal" font-style="normal" fill="#000" transform="translate(225.51,233.10) rotate(-35)">V3/4</text>
<line x1="236.97" y1="227.70" x2="236.97" y2="228.90" stroke="#b0b0b0" stroke-width="1.5"/>
<text font-size="7.3" text-anchor="end" font-weight="normal" font-style="normal" fill="#000" transform="translate(238.57,233.10) rotate(-35)">V4/5</text>
<line x1="250.03" y1="227.70" x2="250.03" y2="228.90" stroke="#b0b0b0" stroke-width="1.5"/>
<text font-size="7.3" text-anchor="end" font-weight="normal" font-style="normal" fill="#000" transform="translate(251.63,233.10) rotate(-35)">V5/6</text>
<line x1="263.09" y1="227.70" x2="263.09" y2="228.90" stroke="#b0b0b0" stroke-width="1.5"/>
<text font-size="7.3" text-anchor="end" font-weight="normal" font-style="normal" fill="#000" transform="translate(264.69,233.10) rotate(-35)">V6/7</text>
<line x1="276.15" y1="227.70" x2="276.15" y2="228.90" stroke="#b0b0b0" stroke-width="1.5"/>
<text font-size="7.3" text-anchor="end" font-weight="normal" font-style="normal" fill="#000" transform="translate(277.75,233.10) rotate(-35)">V7/8</text>
<line x1="289.21" y1="227.70" x2="289.21" y2="228.90" stroke="#b0b0b0" stroke-width="1.5"/>
<text font-size="7.3" text-anchor="end" font-weight="normal" font-style="normal" fill="#000" transform="translate(290.81,233.10) rotate(-35)">V8/9</text>
<line x1="302.27" y1="227.70" x2="302.27" y2="228.90" stroke="#b0b0b0" stroke-width="1.5"/>
<text font-size="7.3" text-anchor="end" font-weight="normal" font-style="normal" fill="#000" transform="translate(303.87,233.10) rotate(-35)">V9/10</text>
<line x1="315.33" y1="227.70" x2="315.33" y2="228.90" stroke="#b0b0b0" stroke-width="1.5"/>
<text font-size="7.3" text-anchor="end" font-weight="normal" font-style="normal" fill="#000" transform="translate(316.93,233.10) rotate(-35)">V10/11</text>
<line x1="328.39" y1="227.70" x2="328.39" y2="228.90" stroke="#b0b0b0" stroke-width="1.5"/>
<text font-size="7.3" text-anchor="end" font-weight="normal" font-style="normal" fill="#000" transform="translate(329.99,233.10) rotate(-35)">V11/12</text>
<text font-size="10.5" text-anchor="start" font-weight="bold" font-style="normal" fill="#000" transform="translate(344.8,133.3)">G</text>
<text font-size="9.3" text-anchor="start" font-weight="normal" font-style="normal" fill="#000" transform="translate(430.0,135.0)">Sexes</text>
<rect x="377.70" y="197.40" width="8.50" height="30.30" fill="#808080" stroke="#6a6a6a" stroke-width="1"/>
<rect x="390.79" y="202.50" width="8.50" height="25.20" fill="#808080" stroke="#6a6a6a" stroke-width="1"/>
<rect x="403.88" y="195.30" width="8.50" height="32.40" fill="#808080" stroke="#6a6a6a" stroke-width="1"/>
<rect x="416.97" y="199.50" width="8.50" height="28.20" fill="#808080" stroke="#6a6a6a" stroke-width="1"/>
<rect x="430.06" y="199.20" width="8.50" height="28.50" fill="#808080" stroke="#6a6a6a" stroke-width="1"/>
<rect x="443.15" y="199.90" width="8.50" height="27.80" fill="#808080" stroke="#6a6a6a" stroke-width="1"/>
<rect x="456.24" y="197.70" width="8.50" height="30.00" fill="#808080" stroke="#6a6a6a" stroke-width="1"/>
<rect x="469.33" y="196.10" width="8.50" height="31.60" fill="#808080" stroke="#6a6a6a" stroke-width="1"/>
<rect x="482.42" y="177.60" width="8.50" height="50.10" fill="#808080" stroke="#6a6a6a" stroke-width="1"/>
<rect x="495.51" y="137.10" width="8.50" height="90.60" fill="#808080" stroke="#6a6a6a" stroke-width="1"/>
<line x1="369.00" y1="130.30" x2="369.00" y2="228.20" stroke="#b0b0b0" stroke-width="1.5"/>
<line x1="368.50" y1="227.70" x2="513.10" y2="227.70" stroke="#b0b0b0" stroke-width="1.5"/>
<line x1="367.50" y1="227.70" x2="369.00" y2="227.70" stroke="#b0b0b0" stroke-width="1.5"/>
<text class="s" font-size="8.0" text-anchor="end" font-weight="normal" font-style="normal" fill="#000" transform="translate(367.30,229.90) scale(0.86,1)">0.00</text>
<line x1="367.50" y1="203.35" x2="369.00" y2="203.35" stroke="#b0b0b0" stroke-width="1.5"/>
<text class="s" font-size="8.0" text-anchor="end" font-weight="normal" font-style="normal" fill="#000" transform="translate(367.30,205.55) scale(0.86,1)">0.07</text>
<line x1="367.50" y1="179.00" x2="369.00" y2="179.00" stroke="#b0b0b0" stroke-width="1.5"/>
<text class="s" font-size="8.0" text-anchor="end" font-weight="normal" font-style="normal" fill="#000" transform="translate(367.30,181.20) scale(0.86,1)">0.14</text>
<line x1="367.50" y1="154.65" x2="369.00" y2="154.65" stroke="#b0b0b0" stroke-width="1.5"/>
<text class="s" font-size="8.0" text-anchor="end" font-weight="normal" font-style="normal" fill="#000" transform="translate(367.30,156.85) scale(0.86,1)">0.21</text>
<line x1="367.50" y1="130.30" x2="369.00" y2="130.30" stroke="#b0b0b0" stroke-width="1.5"/>
<text class="s" font-size="8.0" text-anchor="end" font-weight="normal" font-style="normal" fill="#000" transform="translate(367.30,132.50) scale(0.86,1)">0.28</text>
<text font-size="7.8" text-anchor="middle" font-weight="normal" font-style="normal" fill="#000" transform="translate(350.9,180.45) rotate(-90)">Pairwise variations V</text>
<line x1="381.95" y1="227.70" x2="381.95" y2="228.90" stroke="#b0b0b0" stroke-width="1.5"/>
<text font-size="7.3" text-anchor="end" font-weight="normal" font-style="normal" fill="#000" transform="translate(383.55,233.10) rotate(-35)">V2/3</text>
<line x1="395.04" y1="227.70" x2="395.04" y2="228.90" stroke="#b0b0b0" stroke-width="1.5"/>
<text font-size="7.3" text-anchor="end" font-weight="normal" font-style="normal" fill="#000" transform="translate(396.64,233.10) rotate(-35)">V3/4</text>
<line x1="408.13" y1="227.70" x2="408.13" y2="228.90" stroke="#b0b0b0" stroke-width="1.5"/>
<text font-size="7.3" text-anchor="end" font-weight="normal" font-style="normal" fill="#000" transform="translate(409.73,233.10) rotate(-35)">V4/5</text>
<line x1="421.22" y1="227.70" x2="421.22" y2="228.90" stroke="#b0b0b0" stroke-width="1.5"/>
<text font-size="7.3" text-anchor="end" font-weight="normal" font-style="normal" fill="#000" transform="translate(422.82,233.10) rotate(-35)">V5/6</text>
<line x1="434.31" y1="227.70" x2="434.31" y2="228.90" stroke="#b0b0b0" stroke-width="1.5"/>
<text font-size="7.3" text-anchor="end" font-weight="normal" font-style="normal" fill="#000" transform="translate(435.91,233.10) rotate(-35)">V6/7</text>
<line x1="447.40" y1="227.70" x2="447.40" y2="228.90" stroke="#b0b0b0" stroke-width="1.5"/>
<text font-size="7.3" text-anchor="end" font-weight="normal" font-style="normal" fill="#000" transform="translate(449.00,233.10) rotate(-35)">V7/8</text>
<line x1="460.49" y1="227.70" x2="460.49" y2="228.90" stroke="#b0b0b0" stroke-width="1.5"/>
<text font-size="7.3" text-anchor="end" font-weight="normal" font-style="normal" fill="#000" transform="translate(462.09,233.10) rotate(-35)">V8/9</text>
<line x1="473.58" y1="227.70" x2="473.58" y2="228.90" stroke="#b0b0b0" stroke-width="1.5"/>
<text font-size="7.3" text-anchor="end" font-weight="normal" font-style="normal" fill="#000" transform="translate(475.18,233.10) rotate(-35)">V9/10</text>
<line x1="486.67" y1="227.70" x2="486.67" y2="228.90" stroke="#b0b0b0" stroke-width="1.5"/>
<text font-size="7.3" text-anchor="end" font-weight="normal" font-style="normal" fill="#000" transform="translate(488.27,233.10) rotate(-35)">V10/11</text>
<line x1="499.76" y1="227.70" x2="499.76" y2="228.90" stroke="#b0b0b0" stroke-width="1.5"/>
<text font-size="7.3" text-anchor="end" font-weight="normal" font-style="normal" fill="#000" transform="translate(501.36,233.10) rotate(-35)">V11/12</text>
<text font-size="10.5" text-anchor="start" font-weight="bold" font-style="normal" fill="#000" transform="translate(517.0,133.3)">H</text>
<text font-size="9.3" text-anchor="start" font-weight="normal" font-style="normal" fill="#000" transform="translate(590.4,134.9)">All samples</text>
<rect x="549.60" y="172.50" width="8.60" height="55.40" fill="#808080" stroke="#6a6a6a" stroke-width="1"/>
<rect x="562.64" y="173.50" width="8.60" height="54.40" fill="#808080" stroke="#6a6a6a" stroke-width="1"/>
<rect x="575.68" y="169.50" width="8.60" height="58.40" fill="#808080" stroke="#6a6a6a" stroke-width="1"/>
<rect x="588.72" y="184.00" width="8.60" height="43.90" fill="#808080" stroke="#6a6a6a" stroke-width="1"/>
<rect x="601.76" y="189.20" width="8.60" height="38.70" fill="#808080" stroke="#6a6a6a" stroke-width="1"/>
<rect x="614.80" y="183.70" width="8.60" height="44.20" fill="#808080" stroke="#6a6a6a" stroke-width="1"/>
<rect x="627.84" y="179.20" width="8.60" height="48.70" fill="#808080" stroke="#6a6a6a" stroke-width="1"/>
<rect x="640.88" y="174.40" width="8.60" height="53.50" fill="#808080" stroke="#6a6a6a" stroke-width="1"/>
<rect x="653.92" y="150.60" width="8.60" height="77.30" fill="#808080" stroke="#6a6a6a" stroke-width="1"/>
<rect x="666.96" y="156.30" width="8.60" height="71.60" fill="#808080" stroke="#6a6a6a" stroke-width="1"/>
<line x1="540.40" y1="130.60" x2="540.40" y2="228.40" stroke="#b0b0b0" stroke-width="1.5"/>
<line x1="539.90" y1="227.90" x2="684.30" y2="227.90" stroke="#b0b0b0" stroke-width="1.5"/>
<line x1="538.90" y1="227.90" x2="540.40" y2="227.90" stroke="#b0b0b0" stroke-width="1.5"/>
<text class="s" font-size="8.0" text-anchor="end" font-weight="normal" font-style="normal" fill="#000" transform="translate(538.70,230.10) scale(0.86,1)">0.00</text>
<line x1="538.90" y1="208.44" x2="540.40" y2="208.44" stroke="#b0b0b0" stroke-width="1.5"/>
<text class="s" font-size="8.0" text-anchor="end" font-weight="normal" font-style="normal" fill="#000" transform="translate(538.70,210.64) scale(0.86,1)">0.05</text>
<line x1="538.90" y1="188.98" x2="540.40" y2="188.98" stroke="#b0b0b0" stroke-width="1.5"/>
<text class="s" font-size="8.0" text-anchor="end" font-weight="normal" font-style="normal" fill="#000" transform="translate(538.70,191.18) scale(0.86,1)">0.10</text>
<line x1="538.90" y1="169.52" x2="540.40" y2="169.52" stroke="#b0b0b0" stroke-width="1.5"/>
<text class="s" font-size="8.0" text-anchor="end" font-weight="normal" font-style="normal" fill="#000" transform="translate(538.70,171.72) scale(0.86,1)">0.15</text>
<line x1="538.90" y1="150.06" x2="540.40" y2="150.06" stroke="#b0b0b0" stroke-width="1.5"/>
<text class="s" font-size="8.0" text-anchor="end" font-weight="normal" font-style="normal" fill="#000" transform="translate(538.70,152.26) scale(0.86,1)">0.20</text>
<line x1="538.90" y1="130.60" x2="540.40" y2="130.60" stroke="#b0b0b0" stroke-width="1.5"/>
<text class="s" font-size="8.0" text-anchor="end" font-weight="normal" font-style="normal" fill="#000" transform="translate(538.70,132.80) scale(0.86,1)">0.25</text>
<text font-size="7.8" text-anchor="middle" font-weight="normal" font-style="normal" fill="#000" transform="translate(522.7,180.3) rotate(-90)">Pairwise variations V</text>
<line x1="553.90" y1="227.90" x2="553.90" y2="229.10" stroke="#b0b0b0" stroke-width="1.5"/>
<text font-size="7.3" text-anchor="end" font-weight="normal" font-style="normal" fill="#000" transform="translate(555.50,233.30) rotate(-35)">V2/3</text>
<line x1="566.94" y1="227.90" x2="566.94" y2="229.10" stroke="#b0b0b0" stroke-width="1.5"/>
<text font-size="7.3" text-anchor="end" font-weight="normal" font-style="normal" fill="#000" transform="translate(568.54,233.30) rotate(-35)">V3/4</text>
<line x1="579.98" y1="227.90" x2="579.98" y2="229.10" stroke="#b0b0b0" stroke-width="1.5"/>
<text font-size="7.3" text-anchor="end" font-weight="normal" font-style="normal" fill="#000" transform="translate(581.58,233.30) rotate(-35)">V4/5</text>
<line x1="593.02" y1="227.90" x2="593.02" y2="229.10" stroke="#b0b0b0" stroke-width="1.5"/>
<text font-size="7.3" text-anchor="end" font-weight="normal" font-style="normal" fill="#000" transform="translate(594.62,233.30) rotate(-35)">V5/6</text>
<line x1="606.06" y1="227.90" x2="606.06" y2="229.10" stroke="#b0b0b0" stroke-width="1.5"/>
<text font-size="7.3" text-anchor="end" font-weight="normal" font-style="normal" fill="#000" transform="translate(607.66,233.30) rotate(-35)">V6/7</text>
<line x1="619.10" y1="227.90" x2="619.10" y2="229.10" stroke="#b0b0b0" stroke-width="1.5"/>
<text font-size="7.3" text-anchor="end" font-weight="normal" font-style="normal" fill="#000" transform="translate(620.70,233.30) rotate(-35)">V7/8</text>
<line x1="632.14" y1="227.90" x2="632.14" y2="229.10" stroke="#b0b0b0" stroke-width="1.5"/>
<text font-size="7.3" text-anchor="end" font-weight="normal" font-style="normal" fill="#000" transform="translate(633.74,233.30) rotate(-35)">V8/9</text>
<line x1="645.18" y1="227.90" x2="645.18" y2="229.10" stroke="#b0b0b0" stroke-width="1.5"/>
<text font-size="7.3" text-anchor="end" font-weight="normal" font-style="normal" fill="#000" transform="translate(646.78,233.30) rotate(-35)">V9/10</text>
<line x1="658.22" y1="227.90" x2="658.22" y2="229.10" stroke="#b0b0b0" stroke-width="1.5"/>
<text font-size="7.3" text-anchor="end" font-weight="normal" font-style="normal" fill="#000" transform="translate(659.82,233.30) rotate(-35)">V10/11</text>
<line x1="671.26" y1="227.90" x2="671.26" y2="229.10" stroke="#b0b0b0" stroke-width="1.5"/>
<text font-size="7.3" text-anchor="end" font-weight="normal" font-style="normal" fill="#000" transform="translate(672.86,233.30) rotate(-35)">V11/12</text>
</svg>
</body></html>
